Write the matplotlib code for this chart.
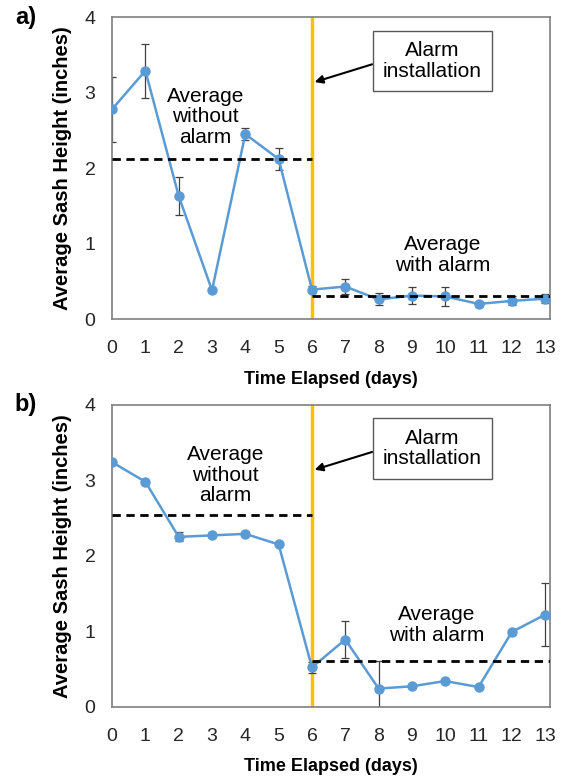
import matplotlib
matplotlib.use("Agg")
import matplotlib.pyplot as plt

plt.rcParams['font.family'] = ['Liberation Sans', 'DejaVu Sans']

days = list(range(14))

# panel a
height_a = [2.78, 3.29, 1.63, 0.38, 2.45, 2.12, 0.39, 0.43, 0.26, 0.31, 0.30, 0.20, 0.24, 0.27]
err_a = [0.43, 0.36, 0.25, 0.0, 0.08, 0.15, 0.05, 0.10, 0.08, 0.11, 0.13, 0.03, 0.06, 0.06]
avg_without_a = 2.12
avg_with_a = 0.31

# panel b
height_b = [3.24, 2.98, 2.25, 2.27, 2.29, 2.15, 0.52, 0.89, 0.24, 0.27, 0.34, 0.26, 0.99, 1.22]
err_b = [0.0, 0.0, 0.06, 0.0, 0.0, 0.0, 0.07, 0.24, 0.36, 0.0, 0.0, 0.0, 0.0, 0.42]
avg_without_b = 2.54
avg_with_b = 0.61

alarm_day = 6

BLUE = '#5B9BD5'
ORANGE = '#FFC000'
GREY = '#7F7F7F'


def draw_panel(ax, heights, errs, avg_without, avg_with, label,
               without_pos, with_pos):
    ax.errorbar(days, heights, yerr=errs, fmt='none', ecolor='#404040',
                elinewidth=0.9, capsize=3, capthick=0.9, zorder=2)
    ax.plot(days, heights, color=BLUE, lw=1.8, marker='o', ms=6.5, zorder=3)
    ax.plot([0, alarm_day], [avg_without, avg_without], color='black',
            lw=2, ls=(0, (3, 2)), zorder=4)
    ax.plot([alarm_day, 13.15], [avg_with, avg_with], color='black',
            lw=2, ls=(0, (3, 2)), zorder=4)
    ax.axvline(alarm_day, color=ORANGE, lw=2.5, zorder=1)

    ax.set_xlim(0, 13.15)
    ax.set_ylim(0, 4)
    ax.set_xticks(days)
    ax.set_yticks([0, 1, 2, 3, 4])
    ax.tick_params(length=0, labelsize=14, colors='#262626')
    ax.tick_params(axis='x', pad=15)
    ax.tick_params(axis='y', pad=12)
    for s in ax.spines.values():
        s.set_color(GREY)
        s.set_linewidth(1.2)

    ax.set_xlabel('Time Elapsed (days)', fontsize=13, fontweight='bold',
                  labelpad=10)
    ax.set_ylabel('Average Sash Height (inches)', fontsize=14.5,
                  fontweight='bold', labelpad=9)

    ax.text(without_pos[0], without_pos[1], 'Average\nwithout\nalarm',
            ha='center', va='center', fontsize=15, linespacing=1.1)
    ax.text(with_pos[0], with_pos[1], 'Average\nwith alarm',
            ha='center', va='center', fontsize=15, linespacing=1.1)
    ax.annotate('Alarm\ninstallation', xy=(6.08, 3.14), xytext=(9.62, 3.42),
                ha='center', va='center', fontsize=15, linespacing=1.1,
                bbox=dict(boxstyle='square,pad=0.5', fc='white', ec='#595959'),
                arrowprops=dict(arrowstyle='-|>', color='black', lw=1.5,
                                mutation_scale=12, shrinkA=0, shrinkB=0,
                                relpos=(0, 0.5)))
    ax.text(-0.222, 1.0, label, transform=ax.transAxes, fontsize=17,
            fontweight='bold', va='center', ha='left')


fig = plt.figure(figsize=(5.66, 7.8), dpi=100)
ax_a = fig.add_axes([0.198, 0.591, 0.774, 0.387])
ax_b = fig.add_axes([0.198, 0.094, 0.774, 0.387])

draw_panel(ax_a, height_a, err_a, avg_without_a, avg_with_a, 'a)',
           (2.8, 2.68), (9.93, 0.85))
draw_panel(ax_b, height_b, err_b, avg_without_b, avg_with_b, 'b)',
           (3.4, 3.07), (9.74, 1.08))

fig.savefig('out.png', dpi=100)
